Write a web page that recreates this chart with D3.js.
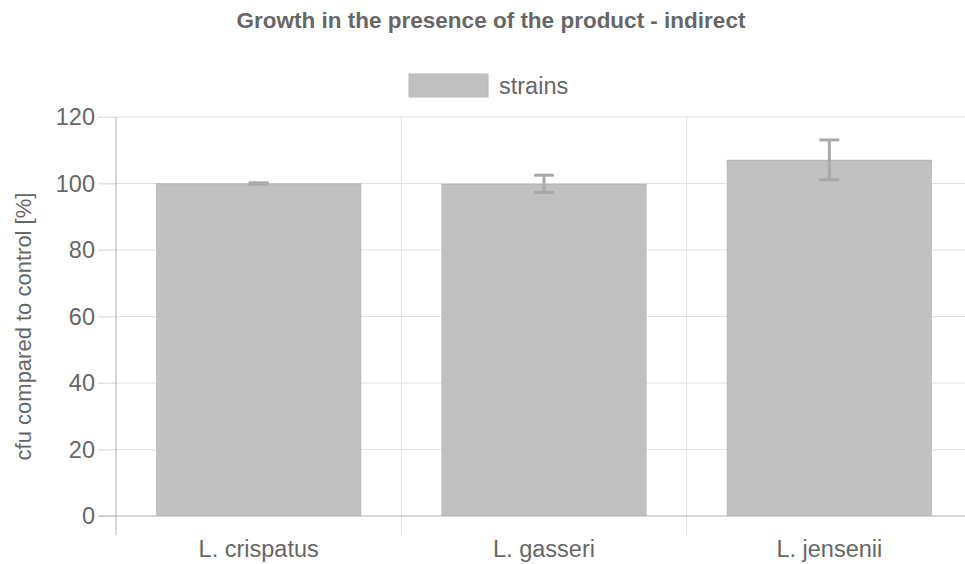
<!DOCTYPE html>
<html lang="en">
<head>
    <meta charset="utf-8">
    <title>Growth in the presence of the product - indirect</title>
    <script src="https://d3js.org/d3.v7.min.js"></script>
    <style>
        body { margin: 0; background: #fff; }
        svg { display: block; font-family: "Liberation Sans", Arial, sans-serif; }
    </style>
</head>
<body>
    <svg id="chart" width="965" height="564"></svg>
    <script>
        // data
        var strains = ["L. crispatus", "L. gasseri", "L. jensenii"];
        var means = [100, 99.9, 107.1];
        var errors = [0.2, 2.6, 6.0];
        var yTicks = [0, 20, 40, 60, 80, 100, 120];

        var svg = d3.select("#chart");
        var plotLeft = 116, plotRight = 972, plotTop = 117, plotBottom = 516;

        var x = d3.scaleBand().domain(strains).range([plotLeft, plotRight]).padding(0);
        var y = d3.scaleLinear().domain([0, 120]).range([plotBottom, plotTop]);
        var barPad = 40;

        // title
        svg.append("text")
            .attr("x", 491).attr("y", 28)
            .attr("text-anchor", "middle")
            .attr("font-size", "22.5px").attr("font-weight", "bold")
            .attr("fill", "#666")
            .text("Growth in the presence of the product - indirect");

        // legend
        svg.append("rect")
            .attr("x", 409).attr("y", 74).attr("width", 79).attr("height", 23)
            .attr("fill", "#c0c0c0").attr("stroke", "#b8b8b8");
        svg.append("text")
            .attr("x", 499).attr("y", 94)
            .attr("font-size", "23.5px").attr("fill", "#666")
            .text("strains");

        // horizontal grid
        svg.append("g").selectAll("line")
            .data(yTicks.filter(function(d) { return d > 0; }))
            .enter().append("line")
            .attr("x1", 98).attr("x2", plotRight)
            .attr("y1", function(d) { return y(d); })
            .attr("y2", function(d) { return y(d); })
            .attr("stroke", "#e2e2e2").attr("stroke-width", 1);

        // vertical grid
        svg.append("g").selectAll("line")
            .data(strains.slice(1))
            .enter().append("line")
            .attr("x1", function(d) { return x(d); })
            .attr("x2", function(d) { return x(d); })
            .attr("y1", plotTop).attr("y2", 535)
            .attr("stroke", "#e2e2e2").attr("stroke-width", 1);

        // bars
        svg.append("g").selectAll("rect")
            .data(strains)
            .enter().append("rect")
            .attr("x", function(d) { return x(d) + barPad; })
            .attr("width", x.bandwidth() - 2 * barPad)
            .attr("y", function(d, i) { return y(means[i]); })
            .attr("height", function(d, i) { return plotBottom - y(means[i]); })
            .attr("fill", "#c0c0c0");
        // top border of each bar
        svg.append("g").selectAll("line")
            .data(strains)
            .enter().append("line")
            .attr("x1", function(d) { return x(d) + barPad; })
            .attr("x2", function(d) { return x(d) + x.bandwidth() - barPad; })
            .attr("y1", function(d, i) { return y(means[i]) + 0.5; })
            .attr("y2", function(d, i) { return y(means[i]) + 0.5; })
            .attr("stroke", "#b6b6b6");

        // error bars
        var eb = svg.append("g").attr("stroke", "#a9a9a9").attr("stroke-width", 3);
        strains.forEach(function(s, i) {
            var cx = x(s) + x.bandwidth() / 2;
            var hi = y(means[i] + errors[i]), lo = y(means[i] - errors[i]);
            eb.append("line").attr("x1", cx).attr("x2", cx).attr("y1", hi).attr("y2", lo);
            eb.append("line").attr("x1", cx - 10).attr("x2", cx + 10).attr("y1", hi).attr("y2", hi);
            eb.append("line").attr("x1", cx - 10).attr("x2", cx + 10).attr("y1", lo).attr("y2", lo);
        });

        // y axis
        var yAxis = svg.append("g")
            .attr("transform", "translate(" + plotLeft + ",0)")
            .call(d3.axisLeft(y).tickValues(yTicks).tickSize(18).tickPadding(3));
        yAxis.select(".domain").remove();
        yAxis.selectAll(".tick line").attr("stroke", "#e2e2e2");
        yAxis.selectAll(".tick text")
            .attr("font-size", "23.5px").attr("fill", "#666")
            .attr("font-family", "Liberation Sans, Arial, sans-serif");
        yAxis.append("line")
            .attr("x1", 0).attr("x2", 0).attr("y1", plotTop).attr("y2", 535)
            .attr("stroke", "#b0b0b0");

        // x axis
        var xAxis = svg.append("g")
            .attr("transform", "translate(0," + plotBottom + ")")
            .call(d3.axisBottom(x).tickSize(0).tickPadding(24));
        xAxis.select(".domain").remove();
        xAxis.selectAll(".tick text")
            .attr("font-size", "23.5px").attr("fill", "#666")
            .attr("font-family", "Liberation Sans, Arial, sans-serif");
        xAxis.append("line")
            .attr("x1", 98).attr("x2", plotRight).attr("y1", 0).attr("y2", 0)
            .attr("stroke", "#b0b0b0");

        // y axis title
        svg.append("text")
            .attr("transform", "translate(31," + ((plotTop + plotBottom) / 2 + 10) + ") rotate(-90)")
            .attr("text-anchor", "middle")
            .attr("font-size", "22px").attr("fill", "#666")
            .text("cfu compared to control [%]");
    </script>
</body>
</html>
